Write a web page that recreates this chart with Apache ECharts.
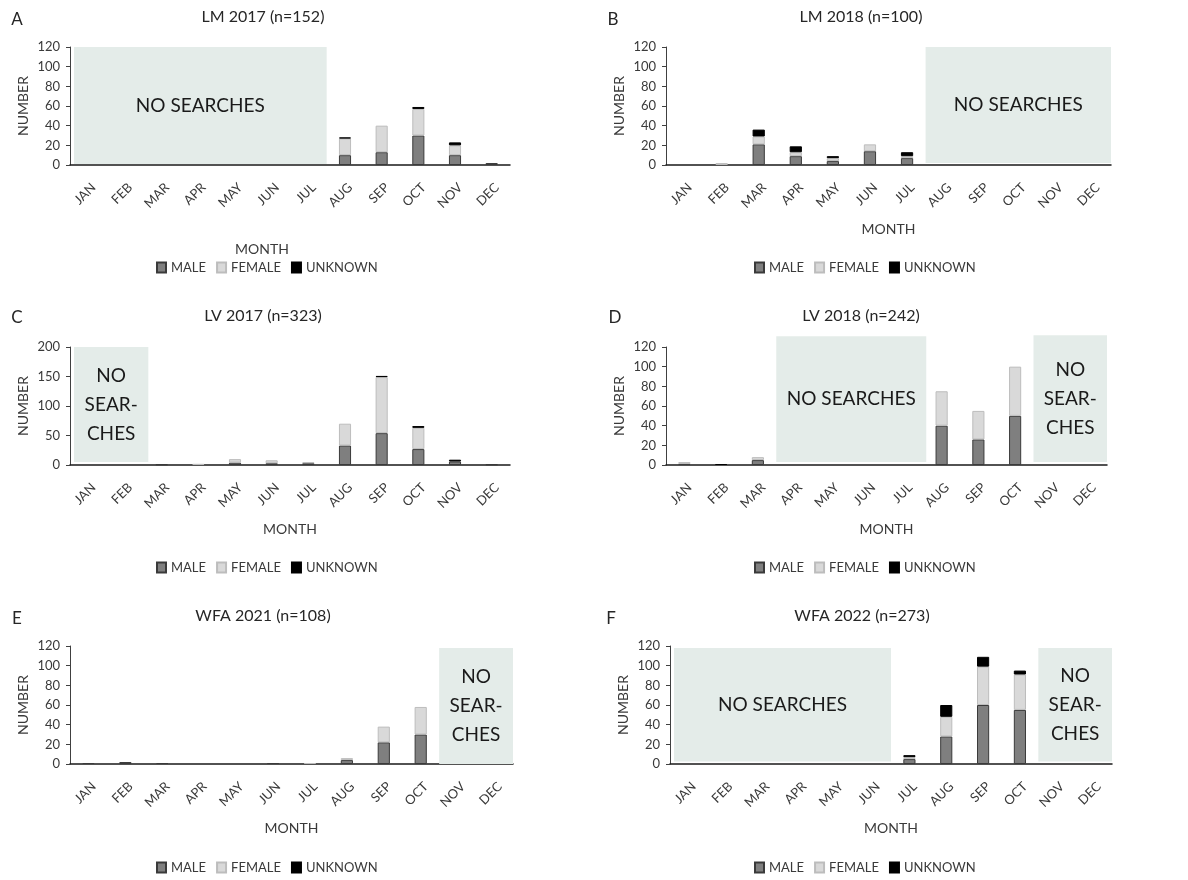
<!DOCTYPE html>
<html>
<head>
<meta charset="utf-8">
<title>Monthly captures by sex</title>
<script src="https://cdn.jsdelivr.net/npm/echarts@6/dist/echarts.min.js"></script>
<style>
  html, body { margin: 0; padding: 0; background: #ffffff; }
  #chart { width: 1188px; height: 880px; }
</style>
</head>
<body>
<div id="chart"></div>
<script>
// ---- data -------------------------------------------------------------
const months = ['JAN', 'FEB', 'MAR', 'APR', 'MAY', 'JUN', 'JUL', 'AUG', 'SEP', 'OCT', 'NOV', 'DEC'];
const sexNames = ['MALE', 'FEMALE', 'UNKNOWN'];

const lm2017Male    = [0, 0, 0, 0, 0, 0, 0, 10, 13, 30, 10, 2];
const lm2017Female  = [0, 0, 0, 0, 0, 0, 0, 17, 27, 27, 10, 0];
const lm2017Unknown = [0, 0, 0, 0, 0, 0, 0, 1, 0, 2, 3, 0];

const lm2018Male    = [0, 0, 21, 9, 4, 14, 7, 0, 0, 0, 0, 0];
const lm2018Female  = [0, 2, 8, 4, 3, 7, 2, 0, 0, 0, 0, 0];
const lm2018Unknown = [0, 0, 7, 6, 2, 0, 4, 0, 0, 0, 0, 0];

const lv2017Male    = [0, 0, 1, 0, 4, 3, 3, 33, 54, 27, 6, 1];
const lv2017Female  = [0, 0, 0, 2, 6, 5, 2, 37, 95, 36, 0, 0];
const lv2017Unknown = [0, 0, 0, 0, 0, 0, 0, 0, 2, 3, 3, 0];

const lv2018Male    = [1, 0, 5, 0, 0, 0, 0, 40, 26, 50, 0, 0];
const lv2018Female  = [2, 0, 3, 0, 0, 0, 0, 35, 29, 50, 0, 0];
const lv2018Unknown = [0, 1, 0, 0, 0, 0, 0, 0, 0, 0, 0, 0];

const wfa2021Male    = [1, 2, 1, 0, 0, 1, 0, 4, 22, 30, 0, 0];
const wfa2021Female  = [0, 0, 0, 0, 0, 0, 1, 2, 16, 28, 0, 0];
const wfa2021Unknown = [0, 0, 0, 0, 0, 0, 0, 0, 0, 0, 0, 0];

const wfa2022Male    = [0, 0, 0, 0, 0, 0, 5, 28, 60, 55, 0, 0];
const wfa2022Female  = [0, 0, 0, 0, 0, 0, 2, 20, 39, 36, 0, 0];
const wfa2022Unknown = [0, 0, 0, 0, 0, 0, 2, 12, 10, 4, 0, 0];

const panelTitles  = ['LM 2017 (n=152)', 'LM 2018 (n=100)', 'LV 2017 (n=323)', 'LV 2018 (n=242)', 'WFA 2021 (n=108)', 'WFA 2022 (n=273)'];
const panelLetters = ['A', 'B', 'C', 'D', 'E', 'F'];

const yMaxes  = [120, 120, 200, 120, 120, 120];
const ySteps  = [20, 20, 50, 20, 20, 20];

// months without field work: [first month index, last month index, label]
const noSearchA = [[0, 6, 'NO SEARCHES']];
const noSearchB = [[7, 11, 'NO SEARCHES']];
const noSearchC = [[0, 1, 'NO\nSEAR-\nCHES']];
const noSearchD = [[3, 6, 'NO SEARCHES'], [10, 11, 'NO\nSEAR-\nCHES']];
const noSearchE = [[10, 11, 'NO\nSEAR-\nCHES']];
const noSearchF = [[0, 5, 'NO SEARCHES'], [10, 11, 'NO\nSEAR-\nCHES']];

// ---- layout -----------------------------------------------------------
const grids = [
  { left: 70,  top: 47,  width: 440, height: 118 },
  { left: 666, top: 47,  width: 445, height: 118 },
  { left: 70,  top: 347, width: 440, height: 118 },
  { left: 666, top: 347, width: 441, height: 118 },
  { left: 70,  top: 646, width: 443, height: 118 },
  { left: 670, top: 646, width: 442, height: 118 }
];
// vertical extent of each shaded block, in axis units [bottom, top], plus extra px on the right
const blockSpans = [
  [[1, 120, 0]],
  [[2, 120, 0]],
  [[5, 200, 5]],
  [[3, 131, 3], [3, 132, 0]],
  [[0, 118, 0]],
  [[2.5, 118, 0], [2.5, 118, 0]]
];
const titlePos  = [[263, 17], [861, 17], [263, 316], [861, 316], [263, 616], [862, 616]];
const letterPos = [[17, 20], [613, 20], [17, 318], [615, 318], [17, 619], [611, 619]];
const legendPos = [[156, 261], [754, 261], [156, 561], [754, 561], [156, 861], [754, 861]];
const xNameGap  = [77, 57, 57, 57, 57, 57];

const FONT = 'Lato, "Open Sans", sans-serif';
const TEXT = '#3a3a3a';
const sexStyles = [
  { color: '#7f7f7f', borderColor: '#3a3a3a' },
  { color: '#d9d9d9', borderColor: '#bdbdbd' },
  { color: '#000000', borderColor: '#000000' }
];

const panelData = [
  [lm2017Male, lm2017Female, lm2017Unknown],
  [lm2018Male, lm2018Female, lm2018Unknown],
  [lv2017Male, lv2017Female, lv2017Unknown],
  [lv2018Male, lv2018Female, lv2018Unknown],
  [wfa2021Male, wfa2021Female, wfa2021Unknown],
  [wfa2022Male, wfa2022Female, wfa2022Unknown]
];
const noSearch = [noSearchA, noSearchB, noSearchC, noSearchD, noSearchE, noSearchF];

// ---- option -----------------------------------------------------------
const xAxes = [], yAxes = [], series = [], legends = [], graphics = [];

grids.forEach(function (g, i) {
  xAxes.push({
    type: 'category', gridIndex: i, data: months,
    name: 'MONTH', nameLocation: 'middle', nameGap: xNameGap[i],
    nameTextStyle: { fontFamily: FONT, fontSize: 14, color: TEXT, padding: i === 0 ? [0, 56, 0, 0] : 0 },
    axisLine: { lineStyle: { color: '#1a1a1a', width: 1.5 } },
    axisTick: { show: false },
    axisLabel: {
      interval: 0, rotate: 45, align: 'right', verticalAlign: 'top', padding: [1, 0, 0, 0],
      fontFamily: FONT, fontSize: 13, color: TEXT, margin: 15
    },
    splitLine: { show: false }
  });
  yAxes.push({
    type: 'value', gridIndex: i, min: 0, max: yMaxes[i], interval: ySteps[i],
    name: 'NUMBER', nameLocation: 'middle', nameGap: 40,
    nameTextStyle: { fontFamily: FONT, fontSize: 14, color: TEXT },
    axisLine: { show: true, lineStyle: { color: '#404040', width: 1 } },
    axisTick: { show: true, length: 4, lineStyle: { color: '#404040' } },
    axisLabel: { fontFamily: FONT, fontSize: 13, color: TEXT, margin: 10 },
    splitLine: { show: false }
  });

  // shaded "no searches" blocks, placed on the category bands
  const blocks = noSearch[i];
  const spans = blockSpans[i];
  series.push({
    type: 'custom', xAxisIndex: i, yAxisIndex: i, z: 1, silent: true,
    data: blocks.map(function (b, k) { return [b[0], b[1], spans[k][0], spans[k][1]]; }),
    encode: { x: [0, 1], y: [2, 3] },
    renderItem: function (params, api) {
      const band = api.size([1, 0])[0];
      const p0 = api.coord([api.value(0), api.value(2)]);
      const p1 = api.coord([api.value(1), api.value(3)]);
      const left = p0[0] - band / 2 + (api.value(0) === 0 ? 4 : 0);
      const right = p1[0] + band / 2 + spans[params.dataIndex][2];
      const top = p1[1], bottom = p0[1];
      return {
        type: 'group',
        children: [
          { type: 'rect', shape: { x: left, y: top, width: right - left, height: bottom - top },
            style: { fill: '#e4ece9' } },
          { type: 'text', style: {
              text: blocks[params.dataIndex][2], x: (left + right) / 2, y: (top + bottom) / 2,
              align: 'center', verticalAlign: 'middle', fontFamily: FONT, fontSize: 19,
              lineHeight: 29, fill: '#1a1a1a' } }
        ]
      };
    }
  });

  panelData[i].forEach(function (values, s) {
    series.push({
      type: 'bar', name: sexNames[s], xAxisIndex: i, yAxisIndex: i, stack: 'sex' + i, z: 2,
      barWidth: '33%',
      data: values.map(function (v) { return v === 0 ? '-' : v; }),
      itemStyle: { color: sexStyles[s].color, borderColor: sexStyles[s].borderColor, borderWidth: 1 },
      emphasis: { disabled: true }
    });
  });

  legends.push({
    left: legendPos[i][0], top: legendPos[i][1], orient: 'horizontal', padding: 0,
    data: sexNames, icon: 'rect', itemWidth: 9, itemHeight: 10, itemGap: 10,
    textStyle: { fontFamily: FONT, fontSize: 13, color: TEXT },
    selectedMode: false
  });

  graphics.push({
    type: 'text', x: titlePos[i][0], y: titlePos[i][1],
    style: { text: panelTitles[i], align: 'center', verticalAlign: 'middle', fontFamily: FONT, fontSize: 16, fill: '#262626' }
  });
  graphics.push({
    type: 'text', x: letterPos[i][0], y: letterPos[i][1],
    style: { text: panelLetters[i], align: 'center', verticalAlign: 'middle', fontFamily: FONT, fontSize: 17, fill: '#262626' }
  });
});

const chart = echarts.init(document.getElementById('chart'), null, { renderer: 'canvas' });
chart.setOption({
  backgroundColor: '#ffffff',
  animation: false,
  grid: grids,
  xAxis: xAxes,
  yAxis: yAxes,
  legend: legends,
  series: series,
  graphic: graphics
});
</script>
</body>
</html>
